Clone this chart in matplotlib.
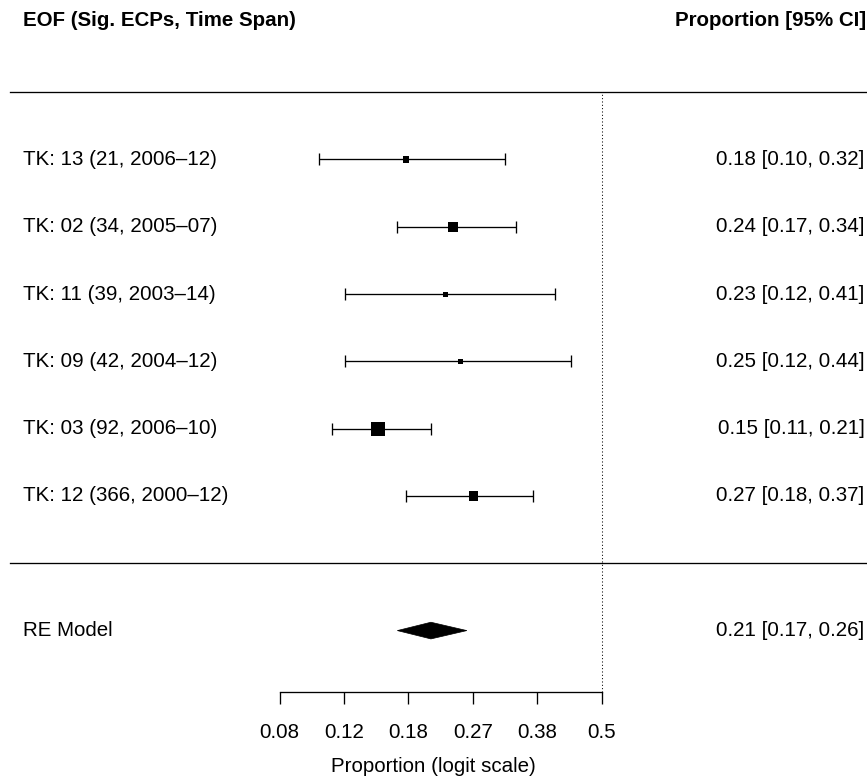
import numpy as np
import matplotlib
matplotlib.use("Agg")
import matplotlib.pyplot as plt
from matplotlib.patches import Polygon

# data (proportions with 95% CI, as printed on the chart)
labels = ["TK: 13 (21, 2006\u201312)", "TK: 02 (34, 2005\u201307)", "TK: 11 (39, 2003\u201314)",
          "TK: 09 (42, 2004\u201312)", "TK: 03 (92, 2006\u201310)", "TK: 12 (366, 2000\u201312)"]
est = [0.18, 0.24, 0.23, 0.25, 0.15, 0.27]
ci_lo = [0.10, 0.17, 0.12, 0.12, 0.11, 0.18]
ci_hi = [0.32, 0.34, 0.41, 0.44, 0.21, 0.37]
weights = [13, 20, 11, 11, 26, 19]  # relative weights (marker size)
re_label = "RE Model"
re_est, re_lo, re_hi = 0.21, 0.17, 0.26
tick_logit = [-2.5, -2.0, -1.5, -1.0, -0.5, 0.0]
tick_labels = ["0.08", "0.12", "0.18", "0.27", "0.38", "0.5"]


def logit(p):
    p = np.asarray(p, dtype=float)
    return np.log(p / (1 - p))


def fmt(e, l, h):
    return f"{e:.2f} [{l:.2f}, {h:.2f}]"


plt.rcParams["font.family"] = ["Liberation Sans", "DejaVu Sans"]
FS = 14.8

fig = plt.figure(figsize=(8.67, 7.82), dpi=100)
ax = fig.add_axes([0, 0, 1, 1])
ax.set_xlim(-4.67, 2.06)
ax.set_ylim(-3.25, 8.37)

k = len(est)
rows = np.arange(k, 0, -1)
x_left, x_right = -4.49, 2.04

# study CIs and squares
xe = logit(est)
xl = logit(ci_lo)
xh = logit(ci_hi)
ax.errorbar(xe, rows, xerr=[xe - xl, xh - xe], fmt="none", ecolor="black",
            elinewidth=0.95, capsize=4.0, capthick=0.95, zorder=2)
w = np.array(weights, dtype=float)
side_px = 5 + (w - w.min()) / (w.max() - w.min()) * 9
ax.scatter(xe, rows, marker="s", s=(side_px * 0.72) ** 2, color="black",
           linewidths=0, zorder=3)

for r, lab, e, l, h in zip(rows, labels, est, ci_lo, ci_hi):
    ax.text(x_left, r, lab, ha="left", va="center", fontsize=FS)
    ax.text(x_right, r, fmt(e, l, h), ha="right", va="center", fontsize=FS)

# summary diamond
re_row = -1
d = 0.124
ax.add_patch(Polygon([[logit(re_lo), re_row], [logit(re_est), re_row + d],
                      [logit(re_hi), re_row], [logit(re_est), re_row - d]],
                     closed=True, facecolor="black", edgecolor="black", lw=0.5))
ax.text(x_left, re_row, re_label, ha="left", va="center", fontsize=FS)
ax.text(x_right, re_row, fmt(re_est, re_lo, re_hi), ha="right", va="center", fontsize=FS)

# headers
ax.text(x_left, 8.07, "EOF (Sig. ECPs, Time Span)", ha="left", va="center",
        fontsize=FS, fontweight="bold")
ax.text(x_right + 0.01, 8.07, "Proportion [95% CI]", ha="right", va="center",
        fontsize=FS, fontweight="bold")

# horizontal rules and reference line
axis_y = -1.91
ax.plot([-4.59, 2.06], [k + 1, k + 1], color="black", lw=0.95)
ax.plot([-4.59, 2.06], [0, 0], color="black", lw=0.95)
ax.plot([0, 0], [axis_y, k + 1], color="black", lw=0.75, linestyle=(0, (1, 2.2)))

# x axis
for s in ["left", "top", "right"]:
    ax.spines[s].set_visible(False)
ax.spines["bottom"].set_position(("data", axis_y))
ax.spines["bottom"].set_bounds(tick_logit[0], tick_logit[-1])
ax.spines["bottom"].set_linewidth(0.95)
ax.set_xticks(tick_logit)
ax.set_xticklabels(tick_labels, fontsize=FS)
ax.tick_params(axis="x", direction="out", length=8.6, width=0.95, pad=13.5)
ax.set_yticks([])
ax.set_xlabel("Proportion (logit scale)", fontsize=FS, labelpad=11)

fig.savefig("out.png", dpi=100)
